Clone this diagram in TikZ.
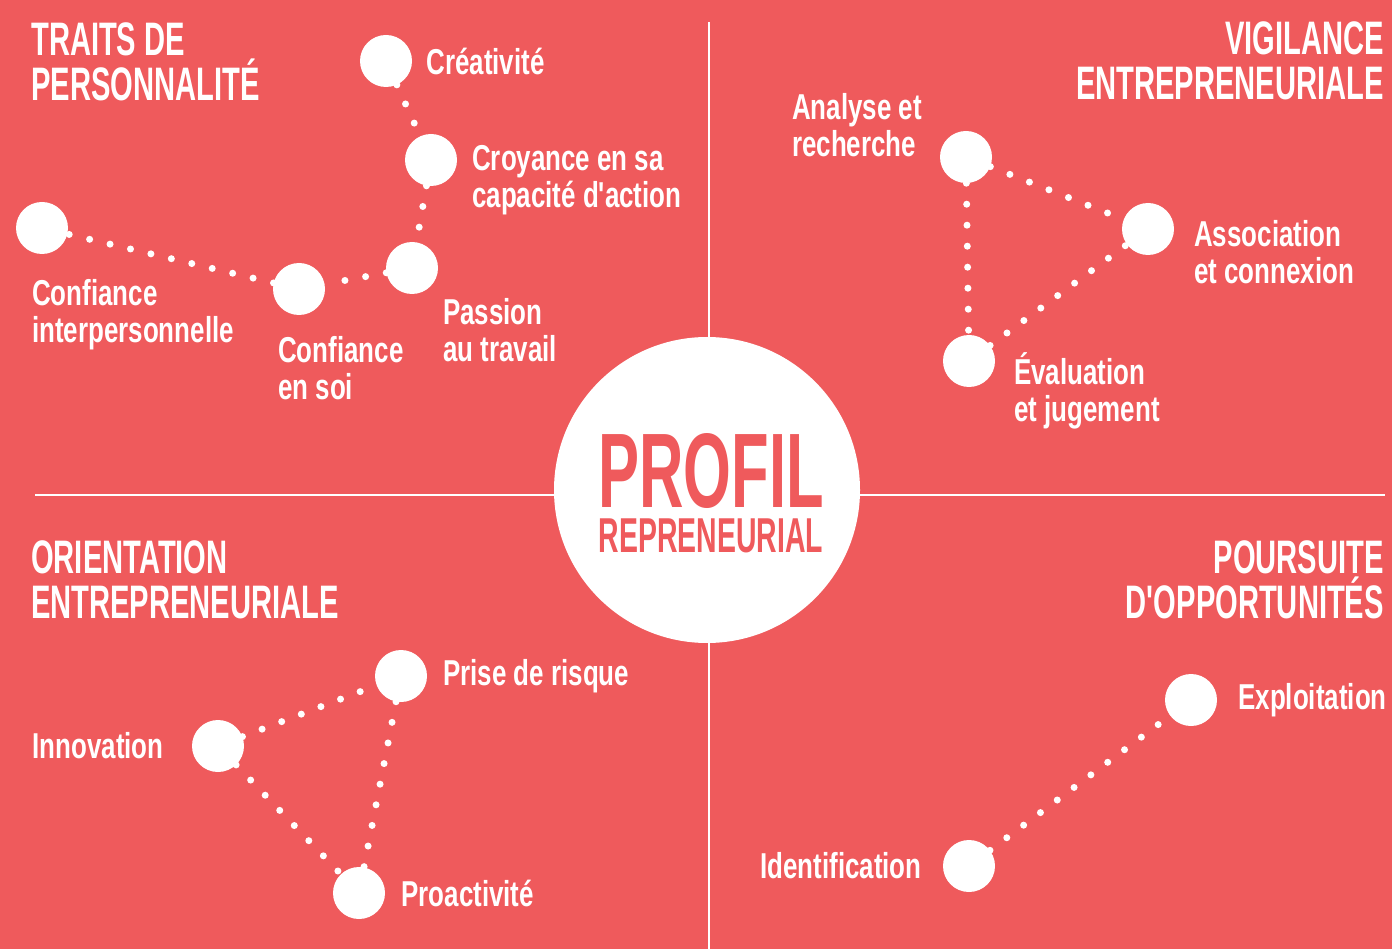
\documentclass[tikz,border=0pt]{standalone}
\usepackage{fontspec}
\setmainfont{Liberation Sans}
\newfontfamily\headfont{Liberation Sans}[FakeStretch=0.62]
\newfontfamily\labelfont{Liberation Sans}[FakeStretch=0.72]
\newfontfamily\profilfont{Liberation Sans}[FakeStretch=0.58]
\usetikzlibrary{positioning}
\definecolor{corail}{RGB}{239,90,92}

\begin{document}
\begin{tikzpicture}[%
x=1pt, y=-1pt,%
bullet/.style={circle, fill=white, inner sep=0pt, minimum size=52pt},%
dotlink/.style={white, line width=7pt, line cap=round, dash pattern=on 0pt off 21pt},%
quad/.style={white, line width=2.5pt},%
lbl/.style={text=white, inner sep=0pt, align=left, font=\labelfont\bfseries\fontsize{36}{37}\selectfont},%
head/.style={text=white, inner sep=0pt, font=\headfont\bfseries\fontsize{47}{45}\selectfont},%
]
    \fill[corail] (0,0) rectangle (1392,949);
    \useasboundingbox (0,0) rectangle (1392,949);

    \draw[quad] (709,22) -- (709,949);
    \draw[quad] (35,495) -- (1385,495);

    \node[head, align=left, anchor=west] (h1) at (31,62) {TRAITS DE\\PERSONNALITÉ};
    \node[head, align=right, anchor=east] (h2) at (1384,61) {VIGILANCE\\ENTREPRENEURIALE};
    \node[head, align=left, anchor=west] (h3) at (31,580) {ORIENTATION\\ENTREPRENEURIALE};
    \node[head, align=right, anchor=east] (h4) at (1384,580) {POURSUITE\\D'OPPORTUNITÉS};

    % traits de personnalite
    \node[bullet] (crea) at (386,61) {};
    \node[bullet] (croy) at (431,160) {};
    \node[bullet] (passion) at (412,268) {};
    \node[bullet] (soi) at (299,289) {};
    \node[bullet] (inter) at (42,228) {};

    \node[lbl, right=14pt of crea] (crea-l) {Créativité};
    \node[lbl, anchor=west] (croy-l) at (472,180) {Croyance en sa\\capacité d'action};
    \node[lbl, anchor=west] (passion-l) at (443,330) {Passion\\au travail};
    \node[lbl, anchor=west] (soi-l) at (278,368) {Confiance\\en soi};
    \node[lbl, anchor=west] (inter-l) at (32,315) {Confiance\\interpersonnelle};

    \draw[dotlink] (crea) -- (croy);
    \draw[dotlink] (croy) -- (passion);
    \draw[dotlink] (passion) -- (soi);
    \draw[dotlink] (soi) -- (inter);

    % vigilance
    \node[bullet] (analyse) at (966,157) {};
    \node[bullet] (assoc) at (1148,229) {};
    \node[bullet] (eval) at (969,361) {};

    \node[lbl, anchor=west] (analyse-l) at (792,125) {Analyse et\\recherche};
    \node[lbl, anchor=west] (assoc-l) at (1194,252) {Association\\et connexion};
    \node[lbl, anchor=west] (eval-l) at (1014,391) {Évaluation\\et jugement};

    \draw[dotlink] (analyse) -- (assoc);
    \draw[dotlink] (analyse) -- (eval);
    \draw[dotlink] (eval) -- (assoc);

    % orientation
    \node[bullet] (innov) at (218,746) {};
    \node[bullet] (prise) at (401,676) {};
    \node[bullet] (proact) at (359,893) {};

    \node[lbl, left=28pt of innov] (innov-l) {Innovation};
    \node[lbl, right=16pt of prise] (prise-l) {Prise de risque};
    \node[lbl, right=16pt of proact] (proact-l) {Proactivité};

    \draw[dotlink] (innov) -- (prise);
    \draw[dotlink] (innov) -- (proact);
    \draw[dotlink] (prise) -- (proact);

    % poursuite
    \node[bullet] (identif) at (969,866) {};
    \node[bullet] (exploit) at (1191,700) {};

    \node[lbl, left=21pt of identif] (identif-l) {Identification};
    \node[lbl, right=21pt of exploit] (exploit-l) {Exploitation};

    \draw[dotlink] (identif) -- (exploit);

    % centre
    \node[circle, fill=white, inner sep=0pt, minimum size=306pt] (profil) at (707,490) {};
    \node[text=corail, inner sep=0pt, align=center, font=\profilfont\bfseries\fontsize{49}{45}\selectfont] (titre) at (711,493)
      {{\fontsize{106}{45}\selectfont PROFIL}\\REPRENEURIAL};
\end{tikzpicture}
\end{document}
